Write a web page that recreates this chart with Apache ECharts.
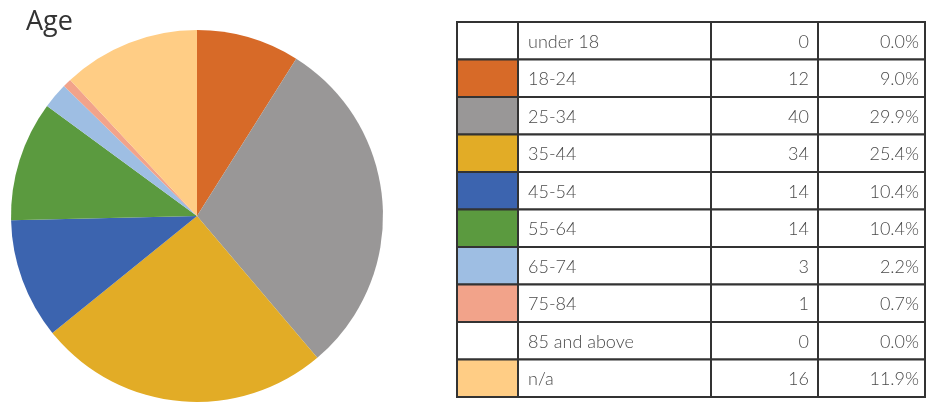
<!DOCTYPE html>
<html>
<head>
<meta charset="utf-8">
<script src="https://cdn.jsdelivr.net/npm/echarts@6/dist/echarts.min.js"></script>
<style>
html,body{margin:0;padding:0;background:#fff;}
#chart{width:928px;height:405px;}
</style>
</head>
<body>
<div id="chart"></div>
<script>
var categories = ['under 18','18-24','25-34','35-44','45-54','55-64','65-74','75-84','85 and above','n/a'];
var counts = [0,12,40,34,14,14,3,1,0,16];
var percentLabels = ['0.0%','9.0%','29.9%','25.4%','10.4%','10.4%','2.2%','0.7%','0.0%','11.9%'];
var colors = ['#ffffff','#D76A28','#999797','#E2AC26','#3C64AF','#5B9A3F','#9EBEE3','#F2A38A','#ffffff','#FFCD85'];

var chart = echarts.init(document.getElementById('chart'));

// table layout
var tTop = 22, rowH = 37.5;
var colX = [457, 518, 711, 818, 925];
var textFont = 'Lato, "Noto Sans", sans-serif';
var graphics = [];
categories.forEach(function(cat, i){
  var y = tTop + i*rowH;
  graphics.push({type:'rect', shape:{x:colX[0], y:y, width:colX[1]-colX[0], height:rowH},
    style:{fill:colors[i], stroke:'#333', lineWidth:2}, z:10});
  for (var c=1;c<4;c++){
    graphics.push({type:'rect', shape:{x:colX[c], y:y, width:colX[c+1]-colX[c], height:rowH},
      style:{fill:'#fff', stroke:'#333', lineWidth:2}, z:9});
  }
  graphics.push({type:'text', x:colX[1]+10, y:y+rowH/2+1, style:{text:cat, fill:'#4a4a4a', font:'300 18px '+textFont, textVerticalAlign:'middle', textAlign:'left'}, z:11});
  graphics.push({type:'text', x:colX[3]-9, y:y+rowH/2+1, style:{text:String(counts[i]), fill:'#4a4a4a', font:'300 18px '+textFont, textVerticalAlign:'middle', textAlign:'right'}, z:11});
  graphics.push({type:'text', x:colX[4]-6, y:y+rowH/2+1, style:{text:percentLabels[i], fill:'#4a4a4a', font:'300 18px '+textFont, textVerticalAlign:'middle', textAlign:'right'}, z:11});
});

chart.setOption({
  animation:false,
  backgroundColor:'#fff',
  title:{text:'Age', left:21, top:4, textStyle:{fontSize:27, fontWeight:'normal', color:'#333', fontFamily:'"Open Sans", sans-serif'}},
  graphic: graphics,
  series:[{
    type:'pie',
    center:[197,216],
    radius:186,
    startAngle:90,
    clockwise:true,
    label:{show:false},
    labelLine:{show:false},
    emphasis:{disabled:true},
    itemStyle:{borderWidth:0},
    data: categories.map(function(c,i){ return {name:c, value:counts[i], itemStyle:{color:colors[i]}}; })
  }]
});
</script>
</body>
</html>
